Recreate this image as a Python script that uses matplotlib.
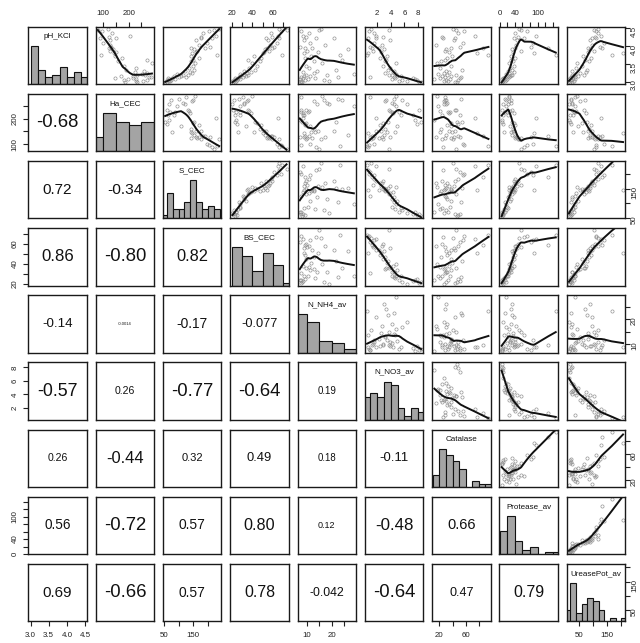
#!/usr/bin/env python3
"""Scatterplot matrix of soil chemistry and enzyme activity (pairs.panels look)."""

import matplotlib
matplotlib.use("Agg")
import matplotlib.pyplot as plt
import matplotlib.transforms as mtransforms
from matplotlib.patches import Rectangle
import numpy as np

plt.rcParams["font.family"] = ["Liberation Sans", "DejaVu Sans"]

var_names = ["pH_KCl", "Ha_CEC", "S_CEC", "BS_CEC", "N_NH4_av", "N_NO3_av",
             "Catalase", "Protease_av", "UreasePot_av"]

# one value per soil sample (47 samples)
ph_kcl = [3.00, 3.00, 3.02, 3.04, 3.05, 3.06, 3.08, 3.09, 3.10, 3.11, 3.13, 3.15,
          3.16, 3.18, 3.19, 3.20, 3.23, 3.26, 3.29, 3.32, 3.35, 3.38, 3.45, 3.52,
          3.58, 3.63, 3.68, 3.74, 4.24, 3.82, 3.85, 3.88, 3.91, 3.94, 3.96, 3.99,
          4.04, 4.10, 4.17, 4.22, 4.26, 4.30, 3.76, 4.38, 4.42, 4.46, 4.49]
ha_cec = [233.2, 187.4, 257.9, 227.3, 180.5, 273.5, 196.0, 227.4, 216.1, 146.0, 287.1, 278.5,
          172.0, 215.7, 262.0, 233.8, 251.5, 272.0, 223.9, 259.5, 188.0, 229.7, 183.1, 291.0,
          160.0, 273.3, 175.8, 146.0, 151.9, 143.3, 150.9, 125.8, 137.6, 132.2, 122.8, 129.3,
          127.4, 98.4, 127.1, 86.5, 121.4, 205.0, 92.0, 133.3, 97.3, 79.6, 120.3]
s_cec = [62.0, 54.4, 66.5, 71.0, 60.5, 75.8, 68.3, 88.0, 64.2, 78.5, 126.0, 103.0,
         108.6, 84.7, 114.2, 131.5, 95.4, 145.2, 138.4, 122.7, 152.3, 134.9, 148.6, 156.1,
         143.0, 150.4, 168.2, 141.7, 175.5, 146.8, 158.3, 162.7, 153.9, 189.4, 144.1, 206.5,
         171.0, 196.2, 159.2, 214.8, 177.6, 228.3, 232.4, 184.9, 202.1, 219.7, 238.6]
bs_cec = [21.0, 22.5, 20.5, 23.8, 25.1, 21.7, 24.4, 27.9, 22.9, 26.3, 30.5, 27.0,
          33.5, 28.2, 31.7, 36.0, 27.5, 34.8, 38.2, 32.1, 42.6, 37.0, 44.8, 39.5,
          47.2, 35.5, 48.9, 41.3, 53.6, 50.6, 51.2, 56.4, 52.8, 58.9, 54.0, 61.5,
          57.3, 63.8, 55.6, 66.2, 59.4, 64.7, 69.1, 58.1, 67.5, 73.4, 65.9]
n_nh4 = [7.6, 8.1, 19.1, 7.9, 9.2, 16.8, 7.3, 10.6, 8.4, 13.5, 7.7, 22.6,
         11.2, 8.8, 18.3, 9.6, 28.9, 12.9, 8.6, 14.2, 21.7, 10.9, 9.9, 16.1,
         13.1, 24.3, 9.3, 11.8, 20.9, 8.9, 14.6, 10.2, 26.4, 9.5, 12.1, 7.5,
         17.4, 11.5, 9.0, 13.8, 9.7, 8.7, 23.5, 11.0, 7.8, 14.9, 15.8]
n_no3 = [8.10, 8.44, 6.40, 5.20, 7.90, 5.70, 7.60, 4.20, 7.30, 4.60, 0.95, 4.40,
         4.90, 5.50, 4.10, 3.70, 4.80, 3.20, 4.30, 4.50, 3.60, 3.90, 2.80, 4.70,
         3.10, 3.30, 2.40, 3.50, 1.80, 0.60, 2.60, 1.40, 3.05, 1.20, 2.20, 0.90,
         2.70, 1.60, 3.95, 0.70, 2.90, 1.90, 0.52, 1.50, 0.80, 3.80, 1.10]
catalase = [44.0, 47.0, 27.3, 33.8, 48.0, 29.4, 12.3, 36.5, 51.0, 21.2, 28.7, 53.0,
            38.2, 23.5, 31.4, 45.0, 18.2, 26.4, 35.1, 29.9, 54.0, 20.8, 37.6, 16.7,
            22.1, 27.9, 32.2, 39.4, 43.0, 77.0, 34.7, 28.0, 30.6, 86.0, 36.9, 52.0,
            14.5, 56.0, 42.0, 25.8, 24.6, 74.0, 94.7, 49.0, 58.0, 46.0, 41.0]
protease = [6.2, 5.0, 9.5, 12.8, 7.4, 15.9, 5.6, 18.3, 8.1, 11.0, 23.7, 14.2,
            26.5, 21.4, 29.8, 33.1, 17.0, 24.9, 36.4, 22.2, 31.5, 27.6, 38.7, 25.3,
            34.0, 28.9, 39.5, 30.4, 37.2, 91.0, 35.8, 55.0, 32.6, 128.0, 39.0, 83.0,
            44.0, 88.0, 46.0, 65.0, 48.0, 95.0, 148.0, 41.0, 72.0, 57.0, 52.0]
urease = [27.4, 18.8, 16.0, 33.2, 24.1, 21.7, 17.5, 38.6, 19.6, 29.5, 35.9, 22.8,
          47.3, 31.0, 26.2, 68.4, 36.7, 53.1, 74.5, 25.3, 79.2, 39.4, 63.0, 44.6,
          86.1, 71.8, 92.5, 65.7, 97.4, 205.4, 84.3, 103.5, 89.9, 131.2, 81.6, 124.7,
          95.8, 137.5, 88.2, 112.4, 108.0, 127.3, 165.8, 116.9, 110.6, 105.2, 118.3]

# correlations printed in the lower panels (row i, columns 0..i-1)
cor_lower = [
    [],
    [-0.68],
    [0.72, -0.34],
    [0.86, -0.80, 0.82],
    [-0.14, -0.0014, -0.17, -0.077],
    [-0.57, 0.26, -0.77, -0.64, 0.19],
    [0.26, -0.44, 0.32, 0.49, 0.18, -0.11],
    [0.56, -0.72, 0.57, 0.80, 0.12, -0.48, 0.66],
    [0.69, -0.66, 0.57, 0.78, -0.042, -0.64, 0.47, 0.79],
]

data = [np.asarray(v, float) for v in
        (ph_kcl, ha_cec, s_cec, bs_cec, n_nh4, n_no3, catalase, protease, urease)]
nvar = len(data)

# layout in pixels
W, H = 640, 643
X0, DX, PW = 28.4, 67.3, 58.4
Y0, DY, PH = 26.6, 67.15, 57.6
TICK_PT = 5.7
TICK_PX = TICK_PT * 100 / 72
CHAR_EM = {"0": .556, "1": .556, "2": .556, "3": .556, "4": .556, "5": .556,
           "6": .556, "7": .556, "8": .556, "9": .556, ".": .278, "-": .333, "m": .833}


def pretty(lo, hi, n, h, h5):
    cell = (hi - lo) / n
    base = 10 ** np.floor(np.log10(cell))
    unit = base
    if 2 * base - cell < h * (cell - unit):
        unit = 2 * base
        if 5 * base - cell < h5 * (cell - unit):
            unit = 5 * base
            if 10 * base - cell < h * (cell - unit):
                unit = 10 * base
    ns = np.floor(lo / unit + 1e-7)
    nu = np.ceil(hi / unit - 1e-7)
    return np.arange(ns, nu + 1) * unit, unit


def lowess(x, y, f=2 / 3, iters=3):
    order = np.argsort(x, kind="stable")
    x, y = x[order], y[order]
    n = len(x)
    ns = max(2, min(n, int(f * n + 1e-7)))
    rw = np.ones(n)
    fit = np.zeros(n)
    span = x[-1] - x[0]
    for it in range(iters + 1):
        for i in range(n):
            d = np.abs(x - x[i])
            hh = np.sort(d)[ns - 1]
            w = np.zeros(n)
            inside = d <= 0.999 * hh
            if hh > 0:
                w[inside] = (1 - (d[inside] / hh) ** 3) ** 3
            w[d <= 0.001 * hh] = 1.0
            w *= rw
            if w.sum() <= 0:
                fit[i] = y[i]
                continue
            w /= w.sum()
            if hh > 0:
                a = np.sum(w * x)
                c = np.sum(w * (x - a) ** 2)
                if np.sqrt(c) > 0.001 * span:
                    w = w * ((x[i] - a) / c * (x - a) + 1)
            fit[i] = np.sum(w * y)
        if it == iters:
            break
        res = np.abs(y - fit)
        cmad = 6 * np.median(res)
        if cmad < 1e-7 * np.mean(np.abs(y)):
            break
        u = res / cmad
        rw = np.where(u < 1, (1 - u ** 2) ** 2, 0.0)
        rw[res <= 0.001 * cmad] = 1.0
        rw[res > 0.999 * cmad] = 0.0
    return x, fit


def axis_ticks(lo, hi, length_px):
    ticks, unit = pretty(lo, hi, 5, 0.8, 1.7)
    ticks = ticks[(ticks >= lo - 1e-9) & (ticks <= hi + 1e-9)]
    dec = max(0, int(-np.floor(np.log10(unit) + 1e-9)))
    gap = CHAR_EM["m"] * TICK_PX
    last = -np.inf
    labels = []
    for t in ticks:
        s = f"{t + 0.0:.{dec}f}"
        w = sum(CHAR_EM[c] for c in s) * TICK_PX
        pos = (t - lo) / (hi - lo) * length_px
        if pos - w / 2 - last >= gap:
            labels.append(s)
            last = pos + w / 2
        else:
            labels.append("")
    return ticks, labels


def cor_text(r):
    a = abs(r)
    dec = max(2, int(1 - np.floor(np.log10(a))))
    return f"{r:.{dec}f}"


def cor_fontsize(r):
    a = abs(r)
    if a < 0.01:
        return 3.0
    if r < 0:
        return min(13.3, 8.6 + 7.5 * a)
    return 5.6 + 7.5 * a


lims = []
for v in data:
    d = v.max() - v.min()
    lims.append((v.min() - 0.04 * d, v.max() + 0.04 * d))

fig = plt.figure(figsize=(6.4, 6.43), dpi=100)
for i in range(nvar):
    for j in range(nvar):
        ax = fig.add_axes([(X0 + j * DX) / W, 1 - (Y0 + i * DY + PH) / H, PW / W, PH / H])
        ax.set_xlim(lims[j])
        ax.set_ylim(lims[i])
        for sp in ax.spines.values():
            sp.set_linewidth(1.0)
            sp.set_color("#1a1a1a")
        ax.tick_params(which="both", bottom=False, top=False, left=False, right=False,
                       labelbottom=False, labeltop=False, labelleft=False, labelright=False,
                       direction="out", length=3.3, width=0.8, pad=3.6,
                       labelsize=TICK_PT, labelcolor="#222222", color="#222222")

        if i == j:
            v = data[i]
            ncls = int(np.ceil(np.log2(len(v)) + 1))
            breaks, _ = pretty(v.min(), v.max(), ncls, 1.5, 2.75)
            idx = np.searchsorted(breaks, v, side="left")
            idx[idx == 0] = 1
            counts = np.bincount(idx - 1, minlength=len(breaks) - 1)
            trans = mtransforms.blended_transform_factory(ax.transData, ax.transAxes)
            for k, c in enumerate(counts):
                if c == 0:
                    continue
                ax.add_patch(Rectangle((breaks[k], 0), breaks[k + 1] - breaks[k],
                                       c / counts.max() / 1.5, transform=trans,
                                       facecolor="#a4a4a4", edgecolor="#111111",
                                       linewidth=0.8))
            ax.text(0.5, 0.83, var_names[i], transform=ax.transAxes, ha="center",
                    va="center", fontsize=5.8, color="#111111")
        elif i > j:
            r = cor_lower[i][j]
            ax.text(0.5, 0.5, cor_text(r), transform=ax.transAxes, ha="center",
                    va="center", fontsize=cor_fontsize(r), color="#111111")
        else:
            x, y = data[j], data[i]
            ax.plot(x, y, linestyle="none", marker="o", markersize=2.3,
                    markerfacecolor="none", markeredgecolor="#8c8c8c",
                    markeredgewidth=0.45)
            sx, sy = lowess(x, y)
            ax.plot(sx, sy, color="#111111", linewidth=1.4)

        # outer axes, alternating sides like R's pairs()
        if i == 0 and j % 2 == 1:
            t, lab = axis_ticks(*lims[j], PW)
            ax.set_xticks(t, lab)
            ax.tick_params(axis="x", top=True, labeltop=True)
        if i == nvar - 1 and j % 2 == 0:
            t, lab = axis_ticks(*lims[j], PW)
            ax.set_xticks(t, lab)
            ax.tick_params(axis="x", bottom=True, labelbottom=True, pad=4.6)
        if j == 0 and i % 2 == 1:
            t, lab = axis_ticks(*lims[i], PH)
            ax.set_yticks(t, lab)
            ax.tick_params(axis="y", left=True, labelleft=True, labelrotation=90)
            for tl in ax.get_yticklabels():
                tl.set_va("center")
        if j == nvar - 1 and i % 2 == 0:
            t, lab = axis_ticks(*lims[i], PH)
            ax.set_yticks(t, lab)
            ax.tick_params(axis="y", right=True, labelright=True, labelrotation=90,
                           pad=0.8)

fig.savefig("out.png", dpi=100)
